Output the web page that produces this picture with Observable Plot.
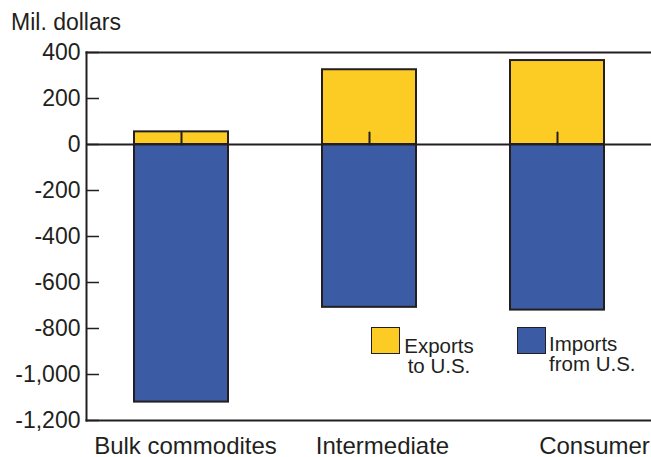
<!DOCTYPE html>
<html><head><meta charset="utf-8">
<script src="https://cdn.jsdelivr.net/npm/d3@7"></script>
<script src="https://cdn.jsdelivr.net/npm/@observablehq/plot@0.6"></script>
<style>
body{margin:0;background:#fff;font-family:"Liberation Sans",Arial,sans-serif;color:#231f20}
#wrap{position:relative;width:651px;height:457px;overflow:hidden}
#title{height:40px;position:relative}
#title span{position:absolute;left:11px;top:11px;font-size:23px;line-height:23px}
.sw{position:absolute;width:29px;height:27px;box-sizing:border-box;border:1.5px solid #231f20}
.lt{position:absolute;font-size:20.5px;line-height:20px;white-space:nowrap}
</style></head><body>
<div id="wrap"><div id="title"><span>Mil. dollars</span></div><div id="chart"></div></div>
<script>
const categories = ["Bulk commodites", "Intermediate", "Consumer"];
const exportsToUS = [55, 325, 365];
const importsFromUS = [-1120, -708, -720];
const yTicks = [400, 200, 0, -200, -400, -600, -800, -1000, -1200];
const seriesNames = ["Exports<br>to U.S.", "Imports<br>from U.S."];

const ink = "#231f20";
const yellow = "#FCCC25";
const blue = "#3B5BA5";
const rows = categories.map((c, i) => ({category: c, exp: exportsToUS[i], imp: importsFromUS[i]}));
const fmt = d => d3.format(",")(d).replace("\u2212", "-");
const tickShape = {draw(ctx, l) { ctx.moveTo(0, 0); ctx.lineTo(0, -l); }};
const labelNudge = [4, 13, 37];

const chart = Plot.plot({
  width: 651, height: 417,
  marginTop: 12, marginLeft: 86, marginRight: 0, marginBottom: 37,
  style: {fontFamily: "Liberation Sans, Arial, sans-serif", fontSize: "22px", color: ink, background: "transparent", overflow: "visible"},
  x: {domain: categories, paddingInner: 0.5, paddingOuter: 0.25, axis: null},
  y: {domain: [-1200, 400], axis: null},
  marks: [
    Plot.barY(rows, {x: "category", y: "exp", fill: yellow, stroke: ink, strokeWidth: 2}),
    Plot.barY(rows, {x: "category", y: "imp", fill: blue, stroke: ink, strokeWidth: 2}),
    Plot.ruleY([0], {stroke: ink, strokeWidth: 2}),
    Plot.vector(categories, {x: d => d, y: () => 0, length: 12, anchor: "start", shape: tickShape, stroke: ink, strokeWidth: 2}),
    Plot.frame({anchor: "top", stroke: ink, strokeWidth: 2}),
    Plot.frame({anchor: "bottom", stroke: ink, strokeWidth: 2}),
    Plot.frame({anchor: "left", stroke: ink, strokeWidth: 2}),
    Plot.axisY(yTicks, {anchor: "left", tickSize: 13, insetLeft: 13, text: null, stroke: ink, strokeWidth: 1.5}),
    Plot.axisY(yTicks, {anchor: "left", tickSize: 0, tickPadding: 6, tickFormat: fmt, fill: ink, fontSize: 23}),
    ...categories.map((c, i) => Plot.text([c], {x: d => d, frameAnchor: "bottom", lineAnchor: "top", dy: 16, dx: labelNudge[i], fontSize: 24, fill: ink}))
  ]
});
document.getElementById("chart").appendChild(chart);

const wrap = document.getElementById("wrap");
const legend = [
  {name: seriesNames[0], color: yellow, sx: 371, tx: 395, tw: 88, ty: 336, align: "center"},
  {name: seriesNames[1], color: blue, sx: 517, tx: 549, tw: null, ty: 334, align: "left"}
];
legend.forEach(l => {
  const sw = document.createElement("div");
  sw.className = "sw";
  sw.style.cssText = `left:${l.sx}px;top:327px;background:${l.color}`;
  wrap.appendChild(sw);
  const t = document.createElement("div");
  t.className = "lt";
  t.style.cssText = `left:${l.tx}px;top:${l.ty}px;text-align:${l.align};` + (l.tw ? `width:${l.tw}px;` : "");
  t.innerHTML = l.name;
  wrap.appendChild(t);
});
</script>
</body></html>
